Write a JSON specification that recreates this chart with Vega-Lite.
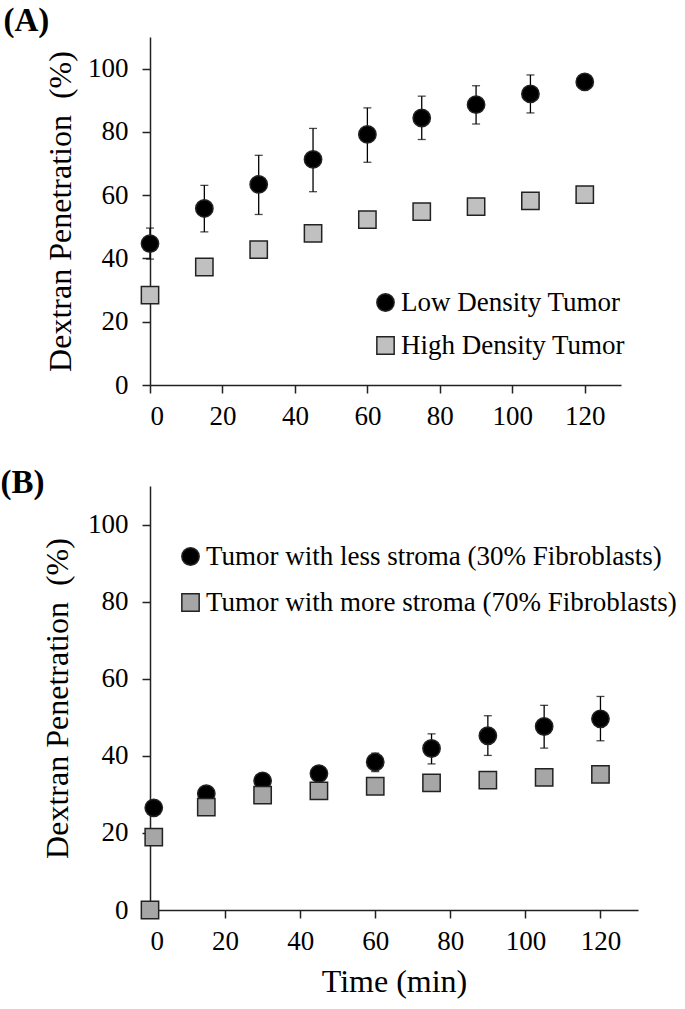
{
  "$schema": "https://vega.github.io/schema/vega-lite/v6.json",
  "background": "white",
  "padding": {"left": 0, "top": 5, "right": 5, "bottom": 5},
  "spacing": 38,
  "datasets": {
    "a": [
      {"series": "Low Density Tumor", "t": 0, "y": 44.7, "lo": 39.8, "hi": 49.6},
      {"series": "Low Density Tumor", "t": 15, "y": 55.8, "lo": 48.4, "hi": 63.1},
      {"series": "Low Density Tumor", "t": 30, "y": 63.4, "lo": 53.9, "hi": 72.6},
      {"series": "Low Density Tumor", "t": 45, "y": 71.3, "lo": 61.1, "hi": 81.1},
      {"series": "Low Density Tumor", "t": 60, "y": 79.2, "lo": 70.4, "hi": 87.6},
      {"series": "Low Density Tumor", "t": 75, "y": 84.4, "lo": 77.6, "hi": 91.3},
      {"series": "Low Density Tumor", "t": 90, "y": 88.6, "lo": 82.5, "hi": 94.6},
      {"series": "Low Density Tumor", "t": 105, "y": 92.0, "lo": 86.0, "hi": 98.0},
      {"series": "Low Density Tumor", "t": 120, "y": 95.8},
      {"series": "High Density Tumor", "t": 0, "y": 28.4},
      {"series": "High Density Tumor", "t": 15, "y": 37.3},
      {"series": "High Density Tumor", "t": 30, "y": 42.8},
      {"series": "High Density Tumor", "t": 45, "y": 47.9},
      {"series": "High Density Tumor", "t": 60, "y": 52.3},
      {"series": "High Density Tumor", "t": 75, "y": 54.8},
      {"series": "High Density Tumor", "t": 90, "y": 56.4},
      {"series": "High Density Tumor", "t": 105, "y": 58.2},
      {"series": "High Density Tumor", "t": 120, "y": 60.2}
    ],
    "b": [
      {"series": "Tumor with less stroma (30% Fibroblasts)", "t": 1, "y": 26.5},
      {"series": "Tumor with less stroma (30% Fibroblasts)", "t": 15, "y": 30.2},
      {"series": "Tumor with less stroma (30% Fibroblasts)", "t": 30, "y": 33.5},
      {"series": "Tumor with less stroma (30% Fibroblasts)", "t": 45, "y": 35.4},
      {"series": "Tumor with less stroma (30% Fibroblasts)", "t": 60, "y": 38.4, "lo": 35.9, "hi": 40.7},
      {"series": "Tumor with less stroma (30% Fibroblasts)", "t": 75, "y": 41.9, "lo": 37.9, "hi": 45.7},
      {"series": "Tumor with less stroma (30% Fibroblasts)", "t": 90, "y": 45.2, "lo": 40.1, "hi": 50.4},
      {"series": "Tumor with less stroma (30% Fibroblasts)", "t": 105, "y": 47.6, "lo": 42.0, "hi": 53.1},
      {"series": "Tumor with less stroma (30% Fibroblasts)", "t": 120, "y": 49.6, "lo": 43.9, "hi": 55.4},
      {"series": "Tumor with more stroma (70% Fibroblasts)", "t": 0, "y": 0},
      {"series": "Tumor with more stroma (70% Fibroblasts)", "t": 1, "y": 18.9},
      {"series": "Tumor with more stroma (70% Fibroblasts)", "t": 15, "y": 26.7},
      {"series": "Tumor with more stroma (70% Fibroblasts)", "t": 30, "y": 29.8},
      {"series": "Tumor with more stroma (70% Fibroblasts)", "t": 45, "y": 30.9},
      {"series": "Tumor with more stroma (70% Fibroblasts)", "t": 60, "y": 32.1},
      {"series": "Tumor with more stroma (70% Fibroblasts)", "t": 75, "y": 33.0},
      {"series": "Tumor with more stroma (70% Fibroblasts)", "t": 90, "y": 33.7},
      {"series": "Tumor with more stroma (70% Fibroblasts)", "t": 105, "y": 34.4},
      {"series": "Tumor with more stroma (70% Fibroblasts)", "t": 120, "y": 35.2}
    ]
  },
  "vconcat": [
    {
      "width": 471,
      "height": 348,
      "title": {"text": "(A)", "anchor": "start", "frame": "bounds", "dx": -41, "fontSize": 33, "fontWeight": "bold", "font": "Liberation Serif", "color": "black", "offset": -1},
      "data": {"name": "a"},
      "layer": [
        {
          "transform": [{"filter": "datum.lo != null"}],
          "mark": {"type": "errorbar", "color": "black", "thickness": 1.3, "ticks": {"size": 8, "thickness": 1.3, "color": "black"}},
          "encoding": {
            "x": {"field": "t", "type": "quantitative", "title": null, "scale": {"domain": [0, 130]}},
            "y": {"field": "lo", "type": "quantitative", "title": "Dextran Penetration\u00a0\u00a0(%)", "scale": {"domain": [0, 110]}},
            "y2": {"field": "hi"}
          }
        },
        {
          "mark": {"type": "point", "filled": true, "stroke": "#222222", "strokeWidth": 1.5, "size": 300, "opacity": 1},
          "encoding": {
            "x": {"field": "t", "type": "quantitative", "title": null, "scale": {"domain": [0, 130], "nice": false}, "axis": {"values": [0, 20, 40, 60, 80, 100, 120]}},
            "y": {"field": "y", "type": "quantitative", "title": "Dextran Penetration\u00a0\u00a0(%)", "scale": {"domain": [0, 110], "nice": false}, "axis": {"values": [0, 20, 40, 60, 80, 100]}},
            "color": {"field": "series", "type": "nominal", "scale": {"domain": ["Low Density Tumor", "High Density Tumor"], "range": ["black", "#c0c0c0"]}, "legend": {"orient": "none", "legendX": 222, "legendY": 252, "title": null, "rowPadding": 15}},
            "shape": {"field": "series", "type": "nominal", "scale": {"domain": ["Low Density Tumor", "High Density Tumor"], "range": ["circle", "square"]}, "legend": {"orient": "none", "legendX": 222, "legendY": 252, "title": null, "rowPadding": 15}}
          }
        }
      ]
    },
    {
      "width": 488,
      "height": 424,
      "title": {"text": "(B)", "anchor": "start", "frame": "bounds", "dx": -41, "fontSize": 33, "fontWeight": "bold", "font": "Liberation Serif", "color": "black", "offset": -14},
      "data": {"name": "b"},
      "layer": [
        {
          "transform": [{"filter": "datum.lo != null"}],
          "mark": {"type": "errorbar", "color": "black", "thickness": 1.3, "ticks": {"size": 8, "thickness": 1.3, "color": "black"}},
          "encoding": {
            "x": {"field": "t", "type": "quantitative", "title": "Time (min)", "scale": {"domain": [0, 130]}},
            "y": {"field": "lo", "type": "quantitative", "title": "Dextran Penetration\u00a0\u00a0(%)", "scale": {"domain": [0, 110]}},
            "y2": {"field": "hi"}
          }
        },
        {
          "mark": {"type": "point", "filled": true, "stroke": "#222222", "strokeWidth": 1.5, "size": 300, "opacity": 1},
          "encoding": {
            "x": {"field": "t", "type": "quantitative", "title": "Time (min)", "scale": {"domain": [0, 130], "nice": false}, "axis": {"titlePadding": 12, "values": [0, 20, 40, 60, 80, 100, 120]}},
            "y": {"field": "y", "type": "quantitative", "title": "Dextran Penetration\u00a0\u00a0(%)", "scale": {"domain": [0, 110], "nice": false}, "axis": {"titlePadding": 13, "values": [0, 20, 40, 60, 80, 100]}},
            "color": {"field": "series", "type": "nominal", "scale": {"domain": ["Tumor with less stroma (30% Fibroblasts)", "Tumor with more stroma (70% Fibroblasts)"], "range": ["black", "#a6a6a6"]}, "legend": {"orient": "none", "legendX": 27, "legendY": 57, "title": null, "rowPadding": 18}},
            "shape": {"field": "series", "type": "nominal", "scale": {"domain": ["Tumor with less stroma (30% Fibroblasts)", "Tumor with more stroma (70% Fibroblasts)"], "range": ["circle", "square"]}, "legend": {"orient": "none", "legendX": 27, "legendY": 57, "title": null, "rowPadding": 18}}
          }
        }
      ]
    }
  ],
  "resolve": {"scale": {"color": "independent", "shape": "independent"}},
  "config": {
    "font": "Liberation Serif",
    "view": {"stroke": null},
    "axis": {
      "grid": false,
      "domainColor": "#222222",
      "domainWidth": 1.5,
      "tickColor": "#222222",
      "tickWidth": 1.5,
      "tickSize": 8,
      "labelFont": "Liberation Serif",
      "labelFontSize": 27,
      "labelColor": "black",
      "labelPadding": 10,
      "titleFont": "Liberation Serif",
      "titleFontSize": 32,
      "titleFontWeight": "normal",
      "titleColor": "black",
      "titlePadding": 10
    },
    "axisY": {"labelPadding": 14},
    "legend": {
      "labelFont": "Liberation Serif",
      "labelFontSize": 27,
      "labelColor": "black",
      "symbolSize": 300,
      "symbolStrokeColor": "#222222",
      "symbolStrokeWidth": 1.5,
      "labelOffset": 2,
      "labelLimit": 600
    }
  }
}
